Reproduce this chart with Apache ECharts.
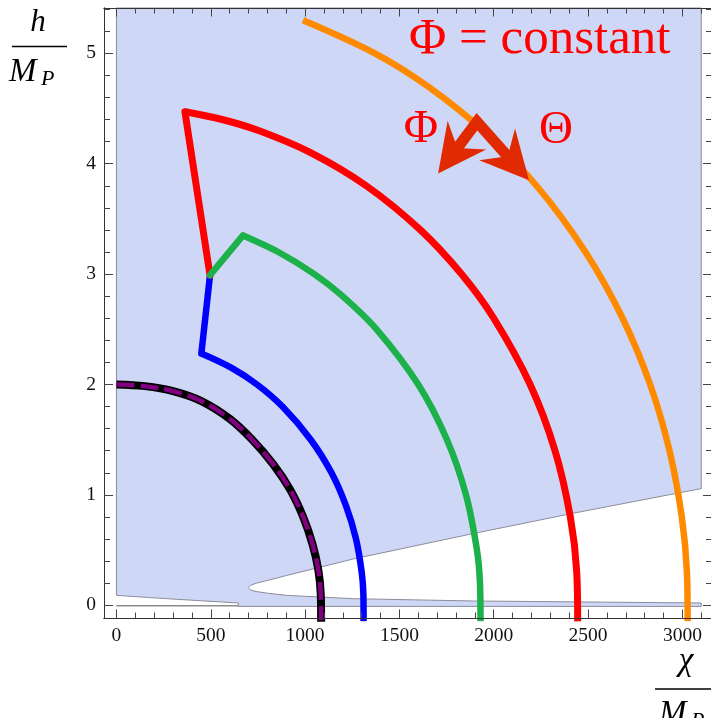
<!DOCTYPE html>
<html>
<head>
<meta charset="utf-8">
<title>h / M_P vs chi / M_P</title>
<script src="https://cdn.jsdelivr.net/npm/echarts@6.0.0/dist/echarts.min.js"></script>
<style>
html, body { margin: 0; padding: 0; background: #fff; }
#chart { width: 711px; height: 718px; }
</style>
</head>
<body>
<div id="chart"></div>
<script>
// axis ranges (frame of the plot)
var xMin = -66, xMax = 3157
var yMin = -0.115, yMax = 5.41

// ticks
var xMajorTicks = [0, 500, 1000, 1500, 2000, 2500, 3000]
var xMinorTicks = [100, 200, 300, 400, 600, 700, 800, 900, 1100, 1200, 1300, 1400, 1600, 1700, 1800, 1900,
    2100, 2200, 2300, 2400, 2600, 2700, 2800, 2900, 3100]
var yMajorTicks = [0, 1, 2, 3, 4, 5]
var yMinorTicks = [0.2, 0.4, 0.6, 0.8, 1.2, 1.4, 1.6, 1.8, 2.2, 2.4, 2.6, 2.8, 3.2, 3.4, 3.6, 3.8,
    4.2, 4.4, 4.6, 4.8, 5.2, 5.4]

// shaded region outline (chi, h)
var shadeOutline = [[0, 5.41], [3100, 5.41], [3100, 1.057], [2440, 0.84], [1892, 0.65], [1256, 0.42],
    [902, 0.27], [800, 0.225], [740, 0.2], [710, 0.18], [699, 0.16], [710, 0.14], [740, 0.125],
    [800, 0.11], [902, 0.09], [1256, 0.06], [1892, 0.039], [3100, 0.021], [3100, -0.01],
    [646, -0.01], [646, 0.021], [266, 0.06], [0, 0.09]]
var bottomEdge = [[0, -0.005], [646, -0.005]]

// trajectories
var blackArc = [[0, 2.0], [150, 1.985], [300, 1.94], [450, 1.85], [600, 1.69], [720, 1.5], [830, 1.28],
    [920, 1.05], [990, 0.8], [1040, 0.55], [1070, 0.32], [1083, 0.1], [1085, -0.15]]
var purpleArc = blackArc
var blueArc = [[1310, -0.15], [1309, 0.1], [1300, 0.3], [1270, 0.6], [1217, 0.9], [1140, 1.2], [1030, 1.5],
    [880, 1.8], [745, 2.0], [610, 2.15], [450, 2.28]]
var blueEdge = [[450, 2.28], [496, 2.99]]
var greenEdge = [[496, 2.99], [671, 3.35]]
var greenArc = [[671, 3.35], [858, 3.2], [1049, 3.0], [1199, 2.8], [1379, 2.5], [1600, 2.0], [1752, 1.5],
    [1853, 1.0], [1911, 0.5], [1927, 0.2], [1930, -0.15]]
var redEdge = [[496, 2.99], [363, 4.47]]
var redArc = [[363, 4.47], [560, 4.4], [753, 4.3], [1029, 4.1], [1324, 3.8], [1611, 3.4], [1829, 3.0],
    [2000, 2.6], [2193, 2.0], [2325, 1.4], [2406, 0.8], [2440, 0.3], [2445, -0.15]]
var orangeArc = [[989, 5.3], [1370, 5.0], [1651, 4.7], [1943, 4.3], [2227, 3.8], [2486, 3.2], [2683, 2.6],
    [2829, 2.0], [2932, 1.4], [2997, 0.8], [3024, 0.3], [3028, -0.15]]

// Phi / Theta arrows
var arrowVertex = [1911, 4.38]
var arrowTips = [[1705, 3.91], [2187, 3.85]]

var serif = '"Liberation Serif", "Times New Roman", serif'

function xAx(pos, ticks, len, withLabels) {
    return {
        type: 'value', min: xMin, max: xMax, position: pos, z: 10,
        axisLine: {show: true, onZero: false, lineStyle: {color: '#333', width: 1}},
        axisTick: {show: true, inside: true, length: len, customValues: ticks, lineStyle: {color: '#444', width: 1}},
        axisLabel: withLabels ? {show: true, customValues: ticks, margin: 8, color: '#111', fontFamily: serif, fontSize: 19.5,
            formatter: function (v) { return String(v) }} : {show: false},
        splitLine: {show: false}
    }
}
function yAx(pos, ticks, len, withLabels) {
    return {
        type: 'value', min: yMin, max: yMax, position: pos, z: 10,
        axisLine: {show: true, onZero: false, lineStyle: {color: '#333', width: 1}},
        axisTick: {show: true, inside: true, length: len, customValues: ticks, lineStyle: {color: '#444', width: 1}},
        axisLabel: withLabels ? {show: true, customValues: ticks, margin: 8, color: '#111', fontFamily: serif, fontSize: 19.5,
            formatter: function (v) { return String(v) }} : {show: false},
        splitLine: {show: false}
    }
}

function curve(data, color, width, smooth, z, dash, cap) {
    return {
        type: 'line', data: data, showSymbol: false, symbol: 'none', smooth: smooth, z: z,
        silent: true, clip: true,
        lineStyle: {color: color, width: width, type: dash || 'solid', cap: cap || 'butt', join: 'round'}
    }
}

var arrowColor = '#e12a02'

var chart = echarts.init(document.getElementById('chart'))
var option = {
    animation: false,
    grid: {left: 104, right: -1, top: 8, bottom: 100, containLabel: false, outerBoundsMode: 'none'},
    xAxis: [
        xAx('bottom', xMajorTicks, 8.5, true),
        xAx('bottom', xMinorTicks, 5.5, false),
        xAx('top', xMajorTicks, 8.5, false),
        xAx('top', xMinorTicks, 5.5, false)
    ],
    yAxis: [
        yAx('left', yMajorTicks, 9, true),
        yAx('left', yMinorTicks, 6, false),
        yAx('right', yMajorTicks, 9, false),
        yAx('right', yMinorTicks, 6, false)
    ],
    series: [
        {
            type: 'custom', coordinateSystem: 'cartesian2d', data: [[0, 0]], z: 1, silent: true,
            renderItem: function (params, api) {
                return {
                    type: 'polygon',
                    shape: {points: shadeOutline.map(function (p) { return api.coord(p) })},
                    style: {fill: '#cfd7f6', stroke: '#8c8c9a', lineWidth: 1}
                }
            }
        },
        curve(bottomEdge, '#8c8c8c', 1.5, false, 2),
        curve(blackArc, '#000', 8, 0.35, 3),
        curve(purpleArc, '#800080', 4.5, 0.35, 4, [18, 6]),
        curve(blueArc, '#0000ff', 6.5, 0.35, 3),
        curve(blueEdge, '#0000ff', 6.5, false, 3, null, 'round'),
        curve(redArc, '#ff0000', 7, 0.35, 3),
        curve(redEdge, '#ff0000', 7, false, 3, null, 'round'),
        curve(greenArc, '#1db14b', 6.5, 0.35, 4),
        curve(greenEdge, '#1db14b', 6.5, false, 4, null, 'round'),
        curve(orangeArc, '#ff8a00', 6.5, 0.35, 3),
        {
            type: 'custom', coordinateSystem: 'cartesian2d', data: [[0, 0]], z: 6, silent: true,
            renderItem: function (params, api) {
                var v = api.coord(arrowVertex)
                var children = []
                var shaft = []
                arrowTips.forEach(function (t) {
                    var p = api.coord(t)
                    var dx = p[0] - v[0], dy = p[1] - v[1]
                    var L = Math.sqrt(dx * dx + dy * dy)
                    var ux = dx / L, uy = dy / L, nx = -uy, ny = ux
                    var headLen = 48, headHalf = 24, notch = 32
                    var bx = p[0] - ux * headLen, by = p[1] - uy * headLen
                    children.push({
                        type: 'polygon',
                        shape: {points: [p, [bx + nx * headHalf, by + ny * headHalf],
                            [p[0] - ux * notch, p[1] - uy * notch], [bx - nx * headHalf, by - ny * headHalf]]},
                        style: {fill: arrowColor}
                    })
                    shaft.push([p[0] - ux * (notch - 2), p[1] - uy * (notch - 2)])
                })
                children.push({
                    type: 'polyline',
                    shape: {points: [shaft[0], v, shaft[1]]},
                    style: {stroke: arrowColor, lineWidth: 11, lineJoin: 'miter', fill: null}
                })
                return {type: 'group', children: children}
            }
        }
    ],
    graphic: [
        // h / M_P
        {type: 'text', x: 38, y: 23, style: {text: 'h', font: 'italic 31px ' + serif, fill: '#000', align: 'center', verticalAlign: 'middle'}},
        {type: 'line', shape: {x1: 12, y1: 46.5, x2: 67, y2: 46.5}, style: {stroke: '#000', lineWidth: 1.3}},
        {type: 'text', x: 9, y: 72, style: {text: 'M', font: 'italic 33px ' + serif, fill: '#000', align: 'left', verticalAlign: 'middle'}},
        {type: 'text', x: 41, y: 79, style: {text: 'P', font: 'italic 22px ' + serif, fill: '#000', align: 'left', verticalAlign: 'middle'}},
        // chi / M_P
        {type: 'text', x: 686, y: 661, style: {text: 'χ', font: 'italic 33px ' + serif, fill: '#000', align: 'center', verticalAlign: 'middle'}},
        {type: 'line', shape: {x1: 655, y1: 689, x2: 711, y2: 689}, style: {stroke: '#000', lineWidth: 1.3}},
        {type: 'text', x: 659, y: 714, style: {text: 'M', font: 'italic 33px ' + serif, fill: '#000', align: 'left', verticalAlign: 'middle'}},
        {type: 'text', x: 691, y: 721, style: {text: 'P', font: 'italic 22px ' + serif, fill: '#000', align: 'left', verticalAlign: 'middle'}},
        // annotations
        {type: 'text', x: 409, y: 40, z: 20, style: {text: 'Φ = constant', font: '51px ' + serif, fill: '#ff0000', align: 'left', verticalAlign: 'middle'}},
        {type: 'text', x: 421, y: 130, z: 20, style: {text: 'Φ', font: '47px ' + serif, fill: '#ff0000', align: 'center', verticalAlign: 'middle'}},
        {type: 'text', x: 556, y: 131, z: 20, style: {text: 'Θ', font: '47px ' + serif, fill: '#ff0000', align: 'center', verticalAlign: 'middle'}}
    ]
}
chart.setOption(option)
</script>
</body>
</html>
